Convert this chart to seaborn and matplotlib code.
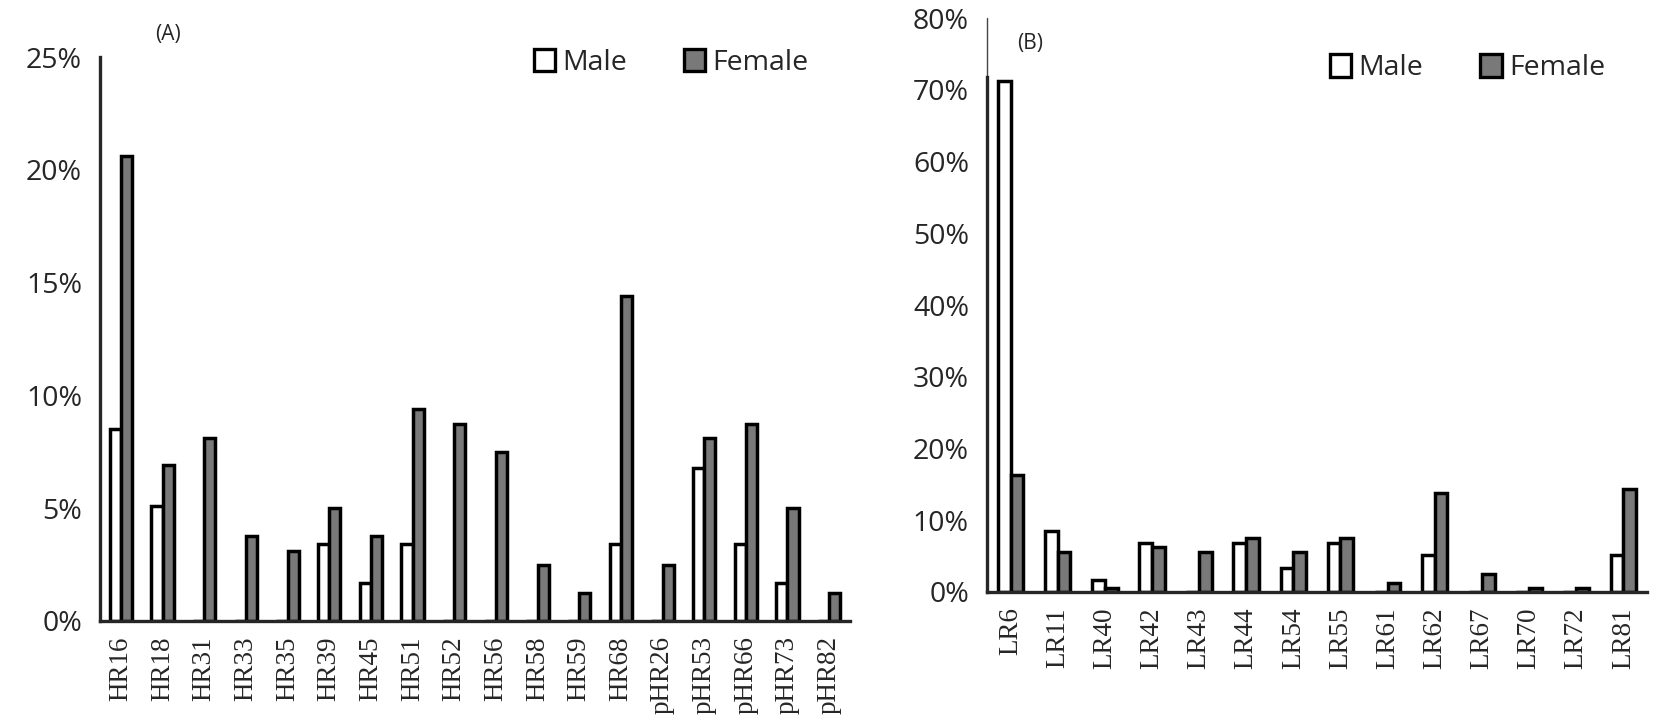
import matplotlib
matplotlib.use("Agg")
import matplotlib.pyplot as plt
import matplotlib.ticker as mticker
from matplotlib.patches import Patch
import pandas as pd
import seaborn as sns

# panel A: high-risk types (% of positive cases)
hr_types = ['HR16', 'HR18', 'HR31', 'HR33', 'HR35', 'HR39', 'HR45', 'HR51', 'HR52',
            'HR56', 'HR58', 'HR59', 'HR68', 'pHR26', 'pHR53', 'pHR66', 'pHR73', 'pHR82']
hr_male = [8.5, 5.1, 0, 0, 0, 3.4, 1.7, 3.4, 0, 0, 0, 0, 3.4, 0, 6.8, 3.4, 1.7, 0]
hr_female = [20.6, 6.9, 8.1, 3.75, 3.1, 5.0, 3.75, 9.4, 8.75, 7.5, 2.5, 1.25, 14.4,
             2.5, 8.1, 8.75, 5.0, 1.25]

# panel B: low-risk types
lr_types = ['LR6', 'LR11', 'LR40', 'LR42', 'LR43', 'LR44', 'LR54', 'LR55', 'LR61',
            'LR62', 'LR67', 'LR70', 'LR72', 'LR81']
lr_male = [71.2, 8.5, 1.7, 6.8, 0, 6.8, 3.4, 6.8, 0, 5.1, 0, 0, 0, 5.1]
lr_female = [16.25, 5.6, 0.6, 6.25, 5.6, 7.5, 5.6, 7.5, 1.25, 13.75, 2.5, 0.6, 0.6, 14.4]

sexes = ['Male', 'Female']
GRAY = '#797979'
palette = {'Male': 'white', 'Female': GRAY}
SANS = ['Open Sans', 'DejaVu Sans']
SERIF = ['Liberation Serif', 'DejaVu Serif']


def long_df(types, male, female):
    df = pd.DataFrame({'type': types, 'Male': male, 'Female': female})
    return df.melt(id_vars='type', var_name='sex', value_name='pct')


def draw_panel(ax, df, order, ymax, ystep, tag, tag_xy, leg_xy):
    sns.barplot(data=df, x='type', y='pct', hue='sex', order=order, hue_order=sexes,
                palette=palette, width=0.54, gap=0, edgecolor='black', linewidth=2.5,
                legend=False, ax=ax)
    ax.set_xlim(-0.5, len(order) - 0.5)
    ax.set_ylim(0, ymax)
    ax.set_yticks(range(0, ymax + 1, ystep))
    ax.yaxis.set_major_formatter(mticker.PercentFormatter(decimals=0))
    ax.set_xlabel('')
    ax.set_ylabel('')
    ax.spines[['top', 'right']].set_visible(False)
    for s in ['left', 'bottom']:
        ax.spines[s].set_linewidth(2.4)
    ax.tick_params(axis='y', direction='out', length=7, width=2.4, pad=6, labelsize=20.5)
    ax.tick_params(axis='x', direction='out', length=5, width=2.4, pad=6, labelsize=19.5)
    for lab in ax.get_yticklabels():
        lab.set_family(SANS)
    for lab in ax.get_xticklabels():
        lab.set_family(SERIF)
        lab.set_rotation(90)
    ax.text(tag_xy[0], tag_xy[1], tag, transform=ax.transAxes, fontsize=15,
            family=SANS, ha='center', va='center')
    handles = [Patch(facecolor=palette[s], edgecolor='black', linewidth=2.4, label=s)
               for s in sexes]
    ax.legend(handles=handles, loc='center left', bbox_to_anchor=leg_xy, ncol=2,
              frameon=False, handlelength=0.75, handleheight=0.85, handletextpad=0.25,
              columnspacing=2.0, borderaxespad=0, borderpad=0,
              prop={'family': SANS, 'size': 20.5})


sns.set_theme(style='white')
fig = plt.figure(figsize=(16.54, 7.18), dpi=100)
ax_a = fig.add_axes([0.0605, 0.1351, 0.4534, 0.7855])
ax_b = fig.add_axes([0.5967, 0.1755, 0.3990, 0.7994])

draw_panel(ax_a, long_df(hr_types, hr_male, hr_female), hr_types, 25, 5,
           '(A)', (0.09, 1.04), (0.578, 0.99))
draw_panel(ax_b, long_df(lr_types, lr_male, lr_female), lr_types, 80, 10,
           '(B)', (0.065, 0.955), (0.52, 0.913))

# panel B: heavy spine stops near the top of the tallest bar, thin line above
ax_b.spines['left'].set_bounds(0, 71.8)
ax_b.plot([0, 0], [71.8, 80], transform=ax_b.get_yaxis_transform(), color='#444444',
          linewidth=1, clip_on=False)

fig.savefig('out.png', dpi=100, facecolor='white')
